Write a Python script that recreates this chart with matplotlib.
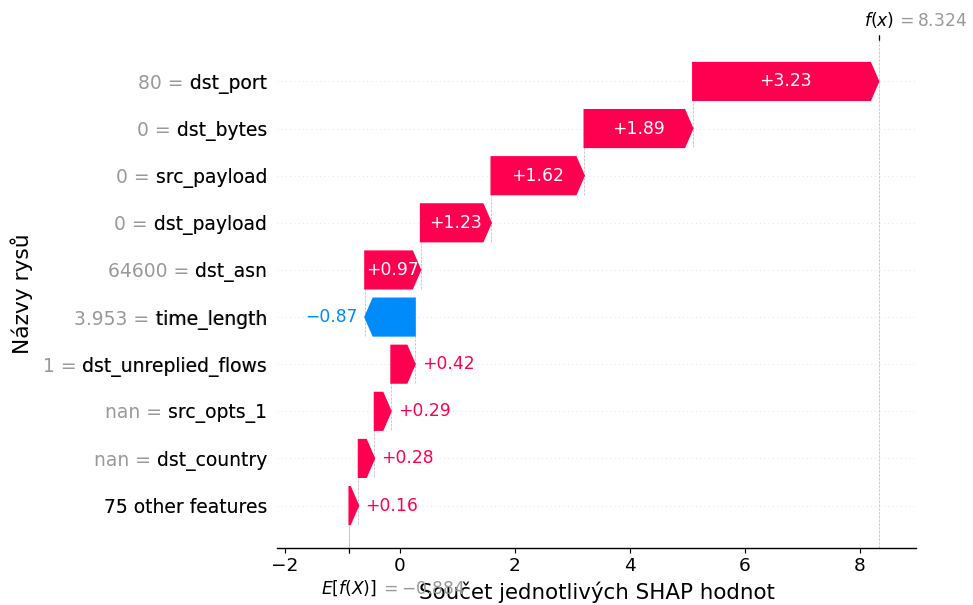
import matplotlib
matplotlib.use("Agg")
import matplotlib.pyplot as plt
import matplotlib.transforms as mtrans
import numpy as np

# ---- data ----
features = ["dst_port", "dst_bytes", "src_payload", "dst_payload", "dst_asn",
            "time_length", "dst_unreplied_flows", "src_opts_1", "dst_country",
            "75 other features"]
feature_values = ["80", "0", "0", "0", "64600", "3.953", "1", "nan", "nan", None]
shap_values = [3.232, 1.888, 1.618, 1.228, 0.968, -0.872, 0.418, 0.288, 0.278, 0.162]
base_value = -0.884
xlabel_text = "Součet jednotlivých SHAP hodnot"
ylabel_text = "Názvy rysů"

RED = "#ff0051"
BLUE = "#008bfb"


def fmt(v, f):
    s = f % v
    if s.startswith("-"):
        s = "\u2212" + s[1:]
    return s


DPI = 102.5
fig = plt.figure(figsize=(973 / DPI, 605 / DPI), dpi=DPI)
ax = fig.add_axes([277 / 973, 1 - 547.5 / 605, (916 - 277) / 973, (547.5 - 39.5) / 605])

n = len(features)
rows = list(range(n))[::-1]
fx = base_value + sum(shap_values)

ax.set_xlim(-2.139, 8.974)
ax.set_ylim(-0.89, n - 1 + 0.89)

head_length = 0.08
bar_width = 0.8
xmin, xmax = ax.get_xlim()
xlen = xmax - xmin
bbox = ax.get_window_extent().transformed(fig.dpi_scale_trans.inverted())
bbox_to_xscale = xlen / bbox.width
hl_scaled = bbox_to_xscale * head_length
renderer = fig.canvas.get_renderer()

loc = fx
labels = [None] * n
for i in range(n):
    sval = shap_values[i]
    r = rows[i]
    loc -= sval
    if feature_values[i] is None:
        labels[r] = features[i]
    else:
        labels[r] = feature_values[i] + " = " + features[i]

    # connector line
    ax.plot([loc, loc], [r - 1 - 0.4, r + 0.4], color="#bbbbbb", linestyle="--",
            linewidth=0.5, zorder=-1)

    dist = abs(sval)
    if sval >= 0:
        start = loc
        arrow = ax.arrow(start, r, max(dist - hl_scaled, 1e-6), 0,
                         head_length=min(dist, hl_scaled), color=RED,
                         width=bar_width, head_width=bar_width)
        txt = ax.text(start + 0.5 * dist, r, fmt(sval, "%+0.02f"), ha="center",
                      va="center", color="white", fontsize=12)
        tb = txt.get_window_extent(renderer=renderer)
        ab = arrow.get_window_extent(renderer=renderer)
        if tb.width > ab.width:
            txt.remove()
            ax.text(start + (5 / 72) * bbox_to_xscale + dist, r, fmt(sval, "%+0.02f"),
                    ha="left", va="center", color=RED, fontsize=12)
    else:
        start = loc
        arrow = ax.arrow(start, r, -max(dist - hl_scaled, 1e-6), 0,
                         head_length=min(dist, hl_scaled), color=BLUE,
                         width=bar_width, head_width=bar_width)
        txt = ax.text(start - 0.5 * dist, r, fmt(sval, "%+0.02f"), ha="center",
                      va="center", color="white", fontsize=12)
        tb = txt.get_window_extent(renderer=renderer)
        ab = arrow.get_window_extent(renderer=renderer)
        if tb.width > ab.width:
            txt.remove()
            ax.text(start - (5 / 72) * bbox_to_xscale - dist, r, fmt(sval, "%+0.02f"),
                    ha="right", va="center", color=BLUE, fontsize=12)

# y tick labels: gray full labels, then black feature names on top
ytick_pos = list(range(n)) + list(np.arange(n) + 1e-8)
ax.set_yticks(ytick_pos)
ax.set_yticklabels(labels + [l.split("=")[-1] for l in labels], fontsize=13.2)
for i, t in enumerate(ax.yaxis.get_majorticklabels()):
    if i < n:
        t.set_color("#999999")

for i in range(n):
    ax.axhline(i, color="#cccccc", lw=0.5, dashes=(1, 5), zorder=-1)

ax.axvline(base_value, 0, 1 / n, color="#bbbbbb", linestyle="--", linewidth=0.5, zorder=-1)
ax.axvline(fx, 0, 1, color="#bbbbbb", linestyle="--", linewidth=0.5, zorder=-1)

ax.xaxis.set_ticks_position("bottom")
ax.yaxis.set_ticks_position("none")
for s in ["right", "top", "left"]:
    ax.spines[s].set_visible(False)
ax.tick_params(axis="x", labelsize=13)
ax.set_xlabel(xlabel_text, fontsize=15)
ax.set_ylabel(ylabel_text, fontsize=15.3, labelpad=7)

# E[f(X)] tick
ax2 = ax.twiny()
ax2.set_xlim(xmin, xmax)
ax2.xaxis.tick_bottom()
ax2.set_xticks([base_value, base_value + 1e-8])
ax2.set_xticklabels(["\n$E[f(X)]$", "\n$ = " + fmt(base_value, "%0.03f") + "$"],
                    fontsize=12, ha="left")
for s in ["right", "top", "left"]:
    ax2.spines[s].set_visible(False)

# f(x) tick
ax3 = ax2.twiny()
ax3.set_xlim(xmin, xmax)
ax3.xaxis.tick_top()
ax3.set_xticks([fx, fx + 1e-8])
ax3.set_xticklabels(["$f(x)$", "$ = " + fmt(fx, "%0.03f") + "$"], fontsize=12, ha="left")
tl = ax3.xaxis.get_majorticklabels()
tl[0].set_transform(tl[0].get_transform() + mtrans.ScaledTranslation(-10 / 72., 0, fig.dpi_scale_trans))
tl[1].set_transform(tl[1].get_transform() + mtrans.ScaledTranslation(12 / 72., 0, fig.dpi_scale_trans))
tl[1].set_color("#999999")
for s in ["right", "top", "left"]:
    ax3.spines[s].set_visible(False)

tl = ax2.xaxis.get_majorticklabels()
tl[0].set_transform(tl[0].get_transform() + mtrans.ScaledTranslation(-20 / 72., 0, fig.dpi_scale_trans))
tl[1].set_transform(tl[1].get_transform() + mtrans.ScaledTranslation(22 / 72., -1 / 72., fig.dpi_scale_trans))
tl[1].set_color("#999999")

fig.savefig("out.png", dpi=DPI)
